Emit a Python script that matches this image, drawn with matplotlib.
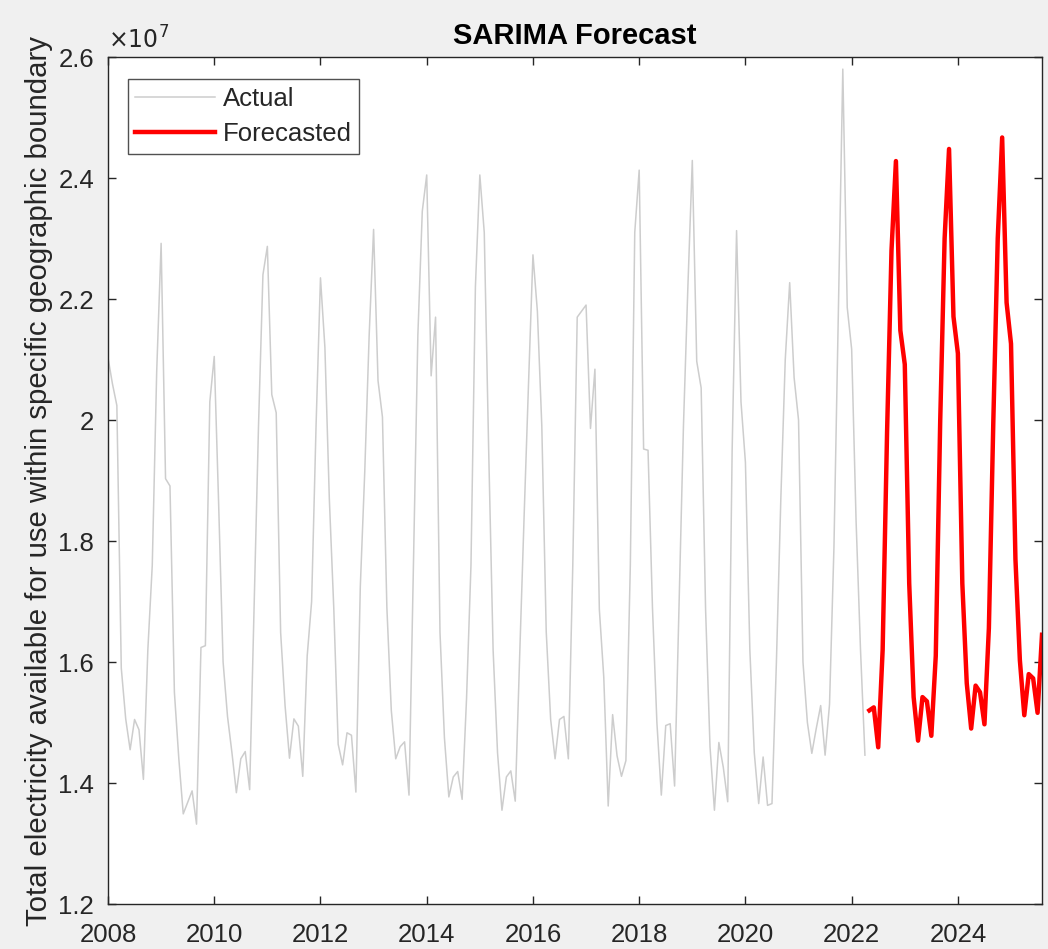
import matplotlib
matplotlib.use("Agg")
import matplotlib.pyplot as plt
import numpy as np

plt.rcParams['font.family'] = ['Liberation Sans', 'DejaVu Sans']

# Monthly series, values in units of 1e7, starting Jan 2008
actual = [
    2.103, 2.06, 2.024, 1.59, 1.506, 1.455, 1.505, 1.488, 1.406, 1.62, 1.76, 2.08,
    2.292, 1.903, 1.891, 1.55, 1.44, 1.349, 1.368, 1.387, 1.332, 1.624, 1.627, 2.03,
    2.105, 1.86, 1.60, 1.51, 1.45, 1.384, 1.44, 1.452, 1.389, 1.69, 1.99, 2.24,
    2.287, 2.042, 2.012, 1.649, 1.528, 1.441, 1.506, 1.494, 1.411, 1.61, 1.70, 1.99,
    2.235, 2.12, 1.87, 1.69, 1.464, 1.43, 1.483, 1.479, 1.385, 1.725, 1.914, 2.14,
    2.315, 2.065, 2.005, 1.69, 1.52, 1.44, 1.46, 1.468, 1.38, 1.76, 2.14, 2.345,
    2.405, 2.073, 2.17, 1.649, 1.475, 1.377, 1.41, 1.419, 1.373, 1.54, 1.76, 2.22,
    2.405, 2.31, 1.95, 1.62, 1.45, 1.355, 1.41, 1.42, 1.37, 1.61, 1.84, 2.06,
    2.273, 2.18, 1.99, 1.65, 1.505, 1.44, 1.505, 1.51, 1.44, 1.76, 2.17, 2.18,
    2.19, 1.986, 2.084, 1.687, 1.575, 1.362, 1.513, 1.445, 1.411, 1.437, 1.76, 2.31,
    2.413, 1.952, 1.95, 1.69, 1.50, 1.38, 1.495, 1.498, 1.395, 1.69, 1.99, 2.22,
    2.429, 2.097, 2.053, 1.687, 1.46, 1.355, 1.467, 1.426, 1.369, 1.95, 2.313, 2.03,
    1.93, 1.62, 1.45, 1.366, 1.443, 1.363, 1.366, 1.60, 1.87, 2.10, 2.227, 2.07,
    2.0, 1.60, 1.50, 1.449, 1.49, 1.528, 1.446, 1.53, 1.79, 2.18, 2.58, 2.186,
    2.117, 1.833, 1.62, 1.446,
]

forecast = [
    1.52, 1.525, 1.459, 1.62, 1.98, 2.28, 2.428, 2.148, 2.092, 1.73, 1.542, 1.47,
    1.542, 1.535, 1.478, 1.61, 1.997, 2.30, 2.448, 2.171, 2.11, 1.73, 1.565, 1.49,
    1.561, 1.55, 1.497, 1.656, 1.997, 2.30, 2.467, 2.194, 2.126, 1.77, 1.603, 1.512,
    1.58, 1.573, 1.516, 1.645,
]

start_year = 2008
n_act = len(actual)
t_act = start_year + np.arange(n_act) / 12.0
t_fc = start_year + (n_act + np.arange(len(forecast))) / 12.0

xticks = [2008, 2010, 2012, 2014, 2016, 2018, 2020, 2022, 2024]
yticks = [1.2, 1.4, 1.6, 1.8, 2.0, 2.2, 2.4, 2.6]
ytick_labels = ['1.2', '1.4', '1.6', '1.8', '2', '2.2', '2.4', '2.6']

fig = plt.figure(figsize=(10.48, 9.49), dpi=100, facecolor='#f0f0f0')
ax = fig.add_axes([108/1048, 1 - 904/949, (1042-108)/1048, (904-57)/949])
ax.set_facecolor('white')

ax.plot(t_act, actual, color='#cdcdcd', lw=1.1, label='Actual')
ax.plot(t_fc, forecast, color='#ff0000', lw=3.2, label='Forecasted')

ax.set_xlim(start_year, t_fc[-1])
ax.set_ylim(1.2, 2.6)
ax.set_xticks(xticks)
ax.set_xticklabels([str(x) for x in xticks])
ax.set_yticks(yticks)
ax.set_yticklabels(ytick_labels)

dark = '#262626'
for s in ax.spines.values():
    s.set_color(dark)
    s.set_linewidth(1.0)
ax.tick_params(direction='in', length=6, width=1.0, colors=dark, labelsize=18.5,
               top=True, right=True)
ax.tick_params(axis='x', pad=14)
ax.tick_params(axis='y', pad=10)

ax.set_title('SARIMA Forecast', fontsize=21, fontweight='bold', color='black', pad=9)
ax.set_ylabel('Total electricity available for use within specific geographic boundary',
              fontsize=21.2, color=dark, labelpad=4)
ax.text(0.0, 1.004, r'$\times10^{7}$', transform=ax.transAxes, fontsize=17,
        color=dark, ha='left', va='bottom')

leg = ax.legend(loc='upper left', bbox_to_anchor=(0.021, 0.974), fontsize=18.5,
                frameon=True, fancybox=False, edgecolor=dark, handlelength=3.1,
                borderpad=0.3, labelspacing=0.45, handletextpad=0.3,
                borderaxespad=0.0)
leg.get_frame().set_linewidth(1.0)
for txt in leg.get_texts():
    txt.set_color(dark)

fig.savefig('out.png', dpi=100, facecolor=fig.get_facecolor())
